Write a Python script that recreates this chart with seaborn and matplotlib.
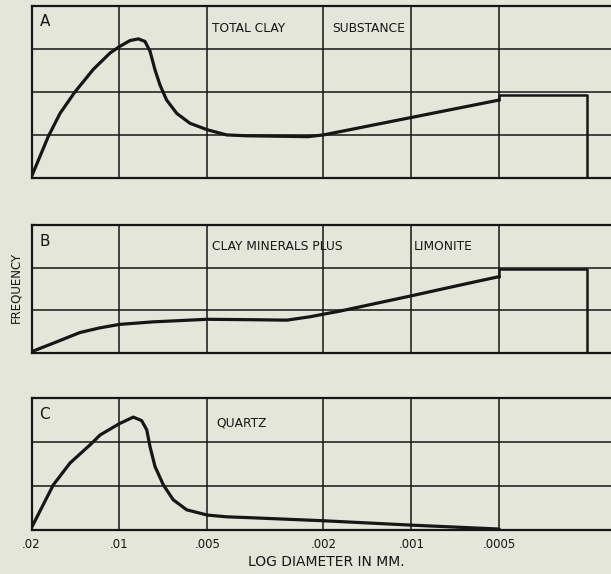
import numpy as np
import pandas as pd
import matplotlib
matplotlib.use("Agg")
import matplotlib.pyplot as plt
import seaborn as sns

# ---- data (diameter in mm, frequency in grid units) ----
a_x = [0.02, 0.01753, 0.01597, 0.01419, 0.01229, 0.01077, 0.0100, 0.0092, 0.00861,
       0.00817, 0.00785, 0.00755, 0.00726, 0.00689, 0.00636, 0.00573, 0.0050,
       0.00429, 0.00366, 0.00226, 0.0020, 0.0005]
a_y = [0.03, 0.96, 1.50, 2.00, 2.52, 2.90, 3.05, 3.19, 3.23,
       3.17, 2.94, 2.51, 2.16, 1.81, 1.50, 1.27, 1.12,
       1.00, 0.98, 0.96, 1.00, 1.81]
a_step_x = [0.0005, 0.0005, 0.00025, 0.00025]
a_step_y = [1.81, 1.93, 1.93, 0.0]

b_x = [0.02, 0.01684, 0.01365, 0.01165, 0.0100, 0.00766, 0.0050, 0.00348, 0.00267,
       0.00222, 0.0020, 0.00176, 0.0010, 0.000642, 0.0005]
b_y = [0.03, 0.23, 0.48, 0.59, 0.67, 0.73, 0.79, 0.78, 0.77,
       0.85, 0.91, 0.98, 1.34, 1.63, 1.79]
b_step_x = [0.0005, 0.0005, 0.00025, 0.00025]
b_step_y = [1.79, 1.98, 1.98, 0.0]

c_x = [0.02, 0.01684, 0.01476, 0.01244, 0.01165, 0.0100, 0.00896, 0.00839, 0.00806,
       0.00785, 0.00755, 0.00707, 0.00654, 0.00588, 0.0050, 0.00429, 0.00357,
       0.0020, 0.0010, 0.0005]
c_y = [0.04, 1.02, 1.52, 1.97, 2.16, 2.42, 2.57, 2.49, 2.28,
       1.89, 1.44, 1.02, 0.68, 0.45, 0.33, 0.29, 0.27,
       0.20, 0.10, 0.01]

tick_values = [0.02, 0.01, 0.005, 0.002, 0.001, 0.0005]
tick_labels = [".02", ".01", ".005", ".002", ".001", ".0005"]

panel_letters = ["A", "B", "C"]
panel_titles = [["TOTAL CLAY", "SUBSTANCE"], ["CLAY MINERALS PLUS", "LIMONITE"], ["QUARTZ"]]
title_x = [[0.00482, 0.00187], [0.00482, 0.00098], [0.00467]]
title_y = [3.46, 2.49, 2.44]
y_max = [4, 3, 3]

# ---- style ----
sns.set_theme(style="white")
plt.rcParams["font.family"] = ["DejaVu Sans"]
BG = "#e4e6da"
INK = "#161616"

fig = plt.figure(figsize=(6.11, 5.74), dpi=100, facecolor=BG)
left = 31.5 / 611
width = 1.0 - left
rects = [
    [left, 1 - 178 / 574, width, (178 - 5.7) / 574],
    [left, 1 - 353 / 574, width, (353 - 225) / 574],
    [left, 1 - 529.5 / 574, width, (529.5 - 398.3) / 574],
]
x_right = 0.000207

curves = [(a_x, a_y, a_step_x, a_step_y), (b_x, b_y, b_step_x, b_step_y), (c_x, c_y, None, None)]

for i, rect in enumerate(rects):
    ax = fig.add_axes(rect)
    ax.set_facecolor(BG)
    ax.set_xscale("log")
    ax.set_xlim(0.02, x_right)
    ax.set_ylim(0, y_max[i])

    cx, cy, sx, sy = curves[i]
    df = pd.DataFrame({"d": cx, "f": cy})
    sns.lineplot(data=df, x="d", y="f", ax=ax, sort=False, estimator=None,
                 color=INK, lw=2.3, solid_joinstyle="round", solid_capstyle="round")
    if sx is not None:
        dfs = pd.DataFrame({"d": sx, "f": sy})
        sns.lineplot(data=dfs, x="d", y="f", ax=ax, sort=False, estimator=None,
                     color=INK, lw=1.8)

    ax.set_xticks(tick_values)
    ax.xaxis.set_minor_locator(matplotlib.ticker.NullLocator())
    ax.set_yticks(list(range(1, y_max[i])))
    ax.set_yticklabels([])
    ax.grid(True, color=INK, lw=1.1)
    ax.tick_params(length=0)
    ax.set_xlabel("")
    ax.set_ylabel("")
    for s in ["left", "top", "bottom"]:
        ax.spines[s].set_color(INK)
        ax.spines[s].set_linewidth(1.6)
    ax.spines["right"].set_visible(False)

    if i == 2:
        ax.set_xticklabels(tick_labels, fontsize=8.5, color=INK)
        ax.tick_params(axis="x", pad=6)
        ax.set_xlabel("LOG DIAMETER IN MM.", fontsize=10, color=INK, labelpad=2)
        ax.xaxis.set_label_coords((326 - 31.5) / 579.5, -0.195)
    else:
        ax.set_xticklabels([])

    letter_y = [0.907, 0.87, 0.88][i]
    ax.text(0.014, letter_y, panel_letters[i], transform=ax.transAxes,
            fontsize=11, color=INK, ha="left", va="center")
    for t, tx in zip(panel_titles[i], title_x[i]):
        ax.text(tx, title_y[i], t, fontsize=8.8, color=INK, ha="left", va="center")

fig.text(15.6 / 611, 1 - 287 / 574, "FREQUENCY", rotation=90, fontsize=8.5,
         color=INK, ha="center", va="center")

fig.savefig("out.png", dpi=100, facecolor=BG)
